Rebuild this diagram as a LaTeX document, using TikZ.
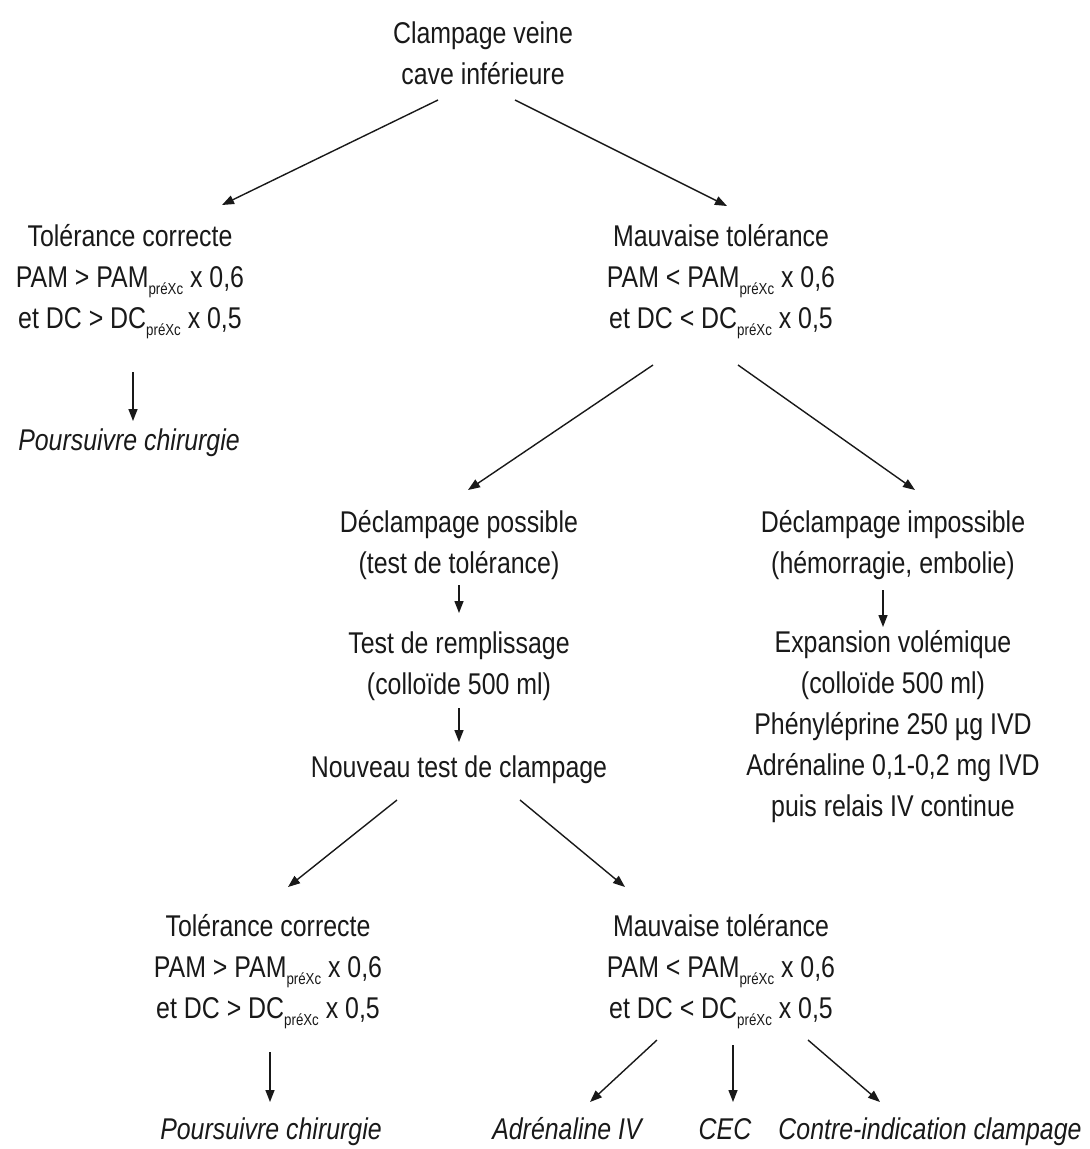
\documentclass[tikz,border=0pt]{standalone}
\usepackage{fontspec}
\setmainfont{Liberation Sans}[FakeStretch=0.83]
\usetikzlibrary{arrows.meta}
\definecolor{ink}{RGB}{25,25,25}
\newcommand\sbx[1]{\raisebox{-0.45ex}{\fontsize{16}{16}\selectfont #1}}
\tikzset{
  txt/.style={align=center, inner sep=0pt, text=ink, font={\fontsize{30}{41}\selectfont}},
  itx/.style={txt, font={\fontsize{30}{41}\selectfont\itshape}},
  arr/.style={draw=ink, line width=1.4pt, -{Triangle[length=12pt,width=9pt]}}
}
\begin{document}
\begin{tikzpicture}[x=1pt,y=-1pt]
\useasboundingbox[fill=white] (0,0) rectangle (1090,1149);
\node[txt] (top) at (483,53) {Clampage veine\\cave inférieure};
\node[txt] (tc1) at (130,282) {Tolérance correcte\\PAM > PAM\sbx{préXc} x 0,6\\et DC > DC\sbx{préXc} x 0,5};
\node[itx] (p1) at (129,443) {Poursuivre chirurgie};
\node[txt] (mt1) at (721,282) {Mauvaise tolérance\\PAM < PAM\sbx{préXc} x 0,6\\et DC < DC\sbx{préXc} x 0,5};
\node[txt] (dp) at (459,545) {Déclampage possible\\(test de tolérance)};
\node[txt] (di) at (893,545) {Déclampage impossible\\(hémorragie, embolie)};
\node[txt] (tr) at (459,666) {Test de remplissage\\(colloïde 500 ml)};
\node[txt] (nt) at (459,770) {Nouveau test de clampage};
\node[txt] (ev) at (893,727) {Expansion volémique\\(colloïde 500 ml)\\Phényléprine 250 µg IVD\\Adrénaline 0,1-0,2 mg IVD\\puis relais IV continue};
\node[txt] (tc2) at (268,972) {Tolérance correcte\\PAM > PAM\sbx{préXc} x 0,6\\et DC > DC\sbx{préXc} x 0,5};
\node[txt] (mt2) at (721,972) {Mauvaise tolérance\\PAM < PAM\sbx{préXc} x 0,6\\et DC < DC\sbx{préXc} x 0,5};
\node[itx] (p2) at (271,1132) {Poursuivre chirurgie};
\node[itx] (adr) at (567,1129) {Adrénaline IV};
\node[itx] (cec) at (725,1129) {CEC};
\node[itx] (ci) at (930,1132) {Contre-indication clampage};

\draw[arr] ([shift={(-45,47)}]top.center) -- ([shift={(92,-77)}]tc1.center);
\draw[arr] ([shift={(32,47)}]top.center) -- ([shift={(6,-76)}]mt1.center);
\draw[arr] ([shift={(3,90)}]tc1.center) -- ([shift={(4,-22)}]p1.center);
\draw[arr] ([shift={(-68,83)}]mt1.center) -- ([shift={(9,-55)}]dp.center);
\draw[arr] ([shift={(17,83)}]mt1.center) -- ([shift={(22,-55)}]di.center);
\draw[arr] ([shift={(0,40)}]dp.center) -- ([shift={(0,-53)}]tr.center);
\draw[arr] ([shift={(0,42)}]tr.center) -- ([shift={(0,-28)}]nt.center);
\draw[arr] ([shift={(-10,45)}]di.center) -- ([shift={(-10,-100)}]ev.center);
\draw[arr] ([shift={(-62,30)}]nt.center) -- ([shift={(20,-85)}]tc2.center);
\draw[arr] ([shift={(61,30)}]nt.center) -- ([shift={(-96,-85)}]mt2.center);
\draw[arr] ([shift={(2,80)}]tc2.center) -- ([shift={(-1,-30)}]p2.center);
\draw[arr] ([shift={(-64,68)}]mt2.center) -- ([shift={(23,-27)}]adr.center);
\draw[arr] ([shift={(12,73)}]mt2.center) -- ([shift={(8,-27)}]cec.center);
\draw[arr] ([shift={(87,68)}]mt2.center) -- ([shift={(-50,-30)}]ci.center);
\end{tikzpicture}
\end{document}
